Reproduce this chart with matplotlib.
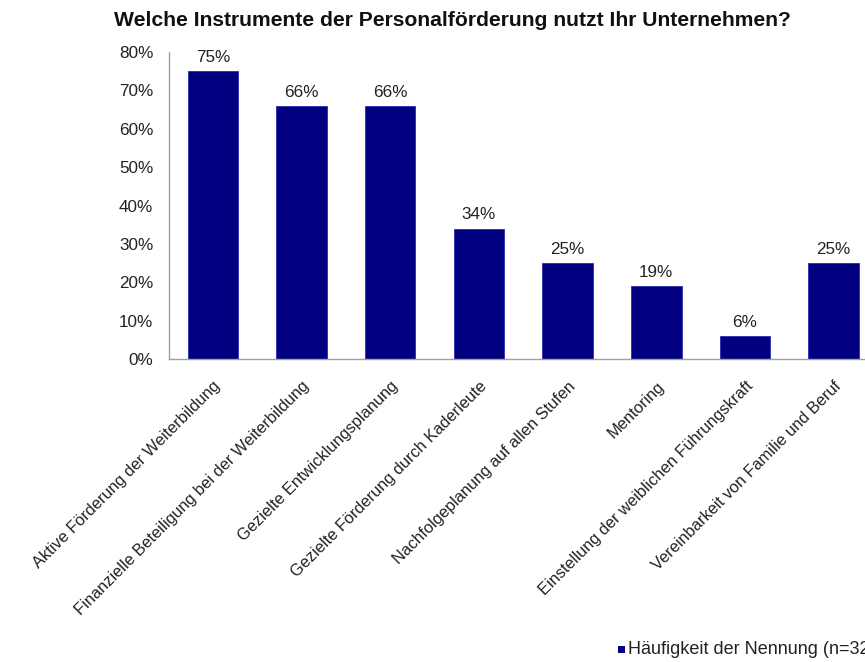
import matplotlib
matplotlib.use("Agg")
import matplotlib.pyplot as plt
from matplotlib.patches import Rectangle

categories = [
    "Aktive Förderung der Weiterbildung",
    "Finanzielle Beteiligung bei der Weiterbildung",
    "Gezielte Entwicklungsplanung",
    "Gezielte Förderung durch Kaderleute",
    "Nachfolgeplanung auf allen Stufen",
    "Mentoring",
    "Einstellung der weiblichen Führungskraft",
    "Vereinbarkeit von Familie und Beruf",
]
values = [75, 66, 66, 34, 25, 19, 6, 25]
yticks = [0, 10, 20, 30, 40, 50, 60, 70, 80]
series_name = "Häufigkeit der Nennung (n=32)"
title = "Welche Instrumente der Personalförderung nutzt Ihr Unternehmen?"

plt.rcParams['font.family'] = ['Liberation Sans', 'DejaVu Sans']

W, H = 865, 662
fig = plt.figure(figsize=(W / 100, H / 100), dpi=100)
left, right, top, bottom = 168.5, 878, 52, 359
ax = fig.add_axes([left / W, 1 - bottom / H, (right - left) / W, (bottom - top) / H])

x = list(range(len(categories)))
ax.bar(x, values, width=0.57, color="#000080", edgecolor="#2a2ab0", linewidth=0.6)
for xi, v in zip(x, values):
    ax.text(xi, v + 1.6, f"{v}%", ha="center", va="bottom", fontsize=12.3, color="#222222")

ax.set_xlim(-0.5, len(categories) - 0.5)
ax.set_ylim(0, 80)
ax.set_yticks(yticks)
ax.set_yticklabels([f"{t}%" for t in yticks], fontsize=12.3, color="#222222")
ax.set_xticks(x)
ax.set_xticklabels(categories, rotation=45, ha="right", rotation_mode="anchor",
                   fontsize=11.8, color="#222222")
ax.tick_params(axis="both", length=0)
ax.tick_params(axis="y", pad=11)
ax.tick_params(axis="x", pad=14)
for s in ["top", "right"]:
    ax.spines[s].set_visible(False)
for s in ["left", "bottom"]:
    ax.spines[s].set_color("#a0a0a0")
    ax.spines[s].set_linewidth(1.0)

fig.text(452 / W, 1 - 21 / H, title, ha="center", va="center", fontsize=15.2,
         fontweight="bold", color="#111111")

# legend (cut off at right edge as in the reference)
fig.patches.append(Rectangle((618 / W, 1 - 653 / H), 7 / W, 7 / H,
                             transform=fig.transFigure, facecolor="#000080",
                             edgecolor="none"))
fig.text(628 / W, 1 - 650 / H, series_name, ha="left", va="center", fontsize=13,
         color="#222222")

fig.savefig("out.png", dpi=100)
